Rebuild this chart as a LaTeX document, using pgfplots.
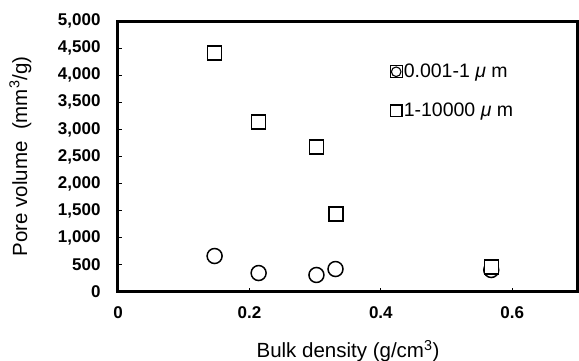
\documentclass[border=0pt]{standalone}
\usepackage{pgfplots}
\pgfplotsset{compat=1.18}
\usepackage{fontspec}
\setmainfont{Liberation Sans}
\begin{document}
\begin{tikzpicture}
\path[use as bounding box] (-118pt,-69pt) rectangle (461pt,292pt);
\begin{axis}[
  at={(0,0)}, anchor=south west,
  scale only axis, width=460pt, height=271pt,
  xmin=0, xmax=0.7, ymin=0, ymax=5000,
  xtick={0,0.2,0.4,0.6}, ytick={0,500,...,5000},
  xticklabels={0,0.2,0.4,0.6},
  scaled ticks=false,
  /pgf/number format/assume math mode=true,
  /pgf/number format/1000 sep={,},
  tick align=inside, xtick pos=bottom, ytick pos=left,
  major tick length=4pt,
  tick style={black, line width=0.8pt},
  axis line style={line width=3pt},
  ticklabel style={font=\fontsize{17}{20}\selectfont\bfseries},
  yticklabel style={xshift=-14pt},
  xticklabel style={yshift=-11pt},
  xlabel={Bulk density (g/cm\textsuperscript{3})},
  ylabel={Pore volume~~(mm\textsuperscript{3}/g)},
  label style={font=\fontsize{20.5}{24}\selectfont},
  xlabel style={at={(axis description cs:0.5,-0.2435)}, anchor=base},
  ylabel style={at={(axis description cs:-0.1978,0.5)}, anchor=base},
  legend style={draw=none, fill=none, at={(axis description cs:0.59,0.845)}, anchor=north west,
    font=\fontsize{19.5}{23}\selectfont, row sep=22pt, inner sep=0pt,
    nodes={inner sep=1pt}},
  legend image code/.code={\path (-6pt,-6pt) rectangle (6pt,6pt); \draw[#1] plot[only marks] coordinates {(0pt,0pt)};},
  legend cell align=left,
]
\addlegendimage{mark=*, mark size=4.8pt, line width=1.1pt, draw=black, fill=white}
\addlegendentry{0.001-1 \textit{μ} m}
\addlegendimage{mark=square*, mark size=5.5pt, line width=1.2pt, draw=black, fill=white}
\addlegendentry{1-10000 \textit{μ} m}
\addplot[forget plot, only marks, mark=*, mark size=7.5pt, line width=1.5pt, mark options={fill=white, draw=black}]
  coordinates {(0.147,664) (0.214,350) (0.302,314) (0.331,424) (0.568,406)};
\addplot[forget plot, only marks, mark=square*, mark size=7pt, line width=1.5pt, mark options={fill=white, draw=black}]
  coordinates {(0.147,4410) (0.214,3137) (0.302,2675) (0.332,1440) (0.568,461)};
\end{axis}
\end{tikzpicture}
\end{document}
